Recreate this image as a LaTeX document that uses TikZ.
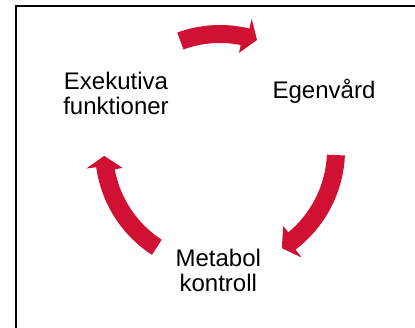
\documentclass[tikz,border=0pt]{standalone}
\usepackage{fontspec}
\setmainfont{Liberation Sans}
\definecolor{cyclered}{RGB}{208,17,52}
\newcommand\cyclearrow[2]{% #1 tail angle, #2 tip angle
  \fill[cyclered] (#1:107) -- (#1:125)
    arc[start angle=#1, end angle={#2+5}, radius=125]
    -- ({#2+5}:135) -- (#2:116) -- ({#2+7.5}:99) -- ({#2+7.5}:107)
    arc[start angle={#2+7.5}, end angle=#1, radius=107] -- cycle;}
\begin{document}
\begin{tikzpicture}[x=1pt,y=1pt,
  lbl/.style={font=\fontsize{24}{25.5}\selectfont, align=center, inner sep=0pt, anchor=base}]
\useasboundingbox (0,0) rectangle (415,327);
% frame
\draw[line width=2pt] (15.8,-5) -- (15.8,320.5) -- (420,320.5);
% cycle arrows
\begin{scope}[shift={(220,177)}]
  \cyclearrow{110}{71.4}
  \cyclearrow{-2.5}{-57.8}
  \cyclearrow{237}{182.9}
\end{scope}
% labels (base anchor = baseline of the last line)
\node[lbl] (exe) at (116,212) {Exekutiva\\funktioner};
\node[lbl] (ege) at (324,228.7) {Egenvård};
\node[lbl] (met) at (218.3,35.3) {Metabol\\kontroll};
\end{tikzpicture}
\end{document}
